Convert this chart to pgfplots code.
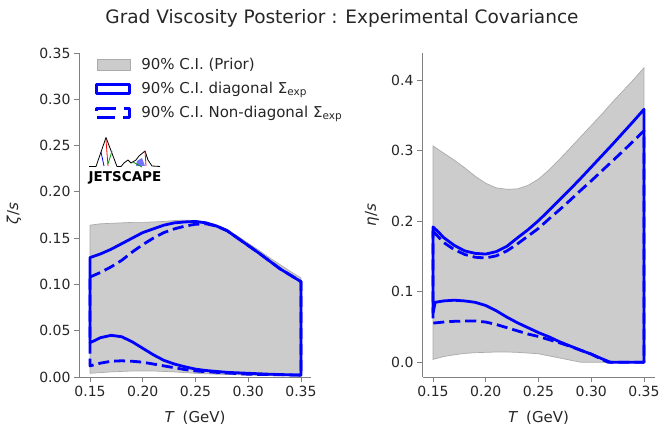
\documentclass[border=0pt]{standalone}
\usepackage{fontspec}
\setmainfont{DejaVu Sans}
\usepackage{pgfplots}
\pgfplotsset{compat=1.18}
\definecolor{txt}{HTML}{262626}
\definecolor{spine}{HTML}{808080}
\definecolor{band}{HTML}{CCCCCC}
\definecolor{bandedge}{HTML}{AAAAAA}
\definecolor{pblue}{RGB}{0,0,255}
\pgfplotsset{
  myaxis/.style={
    scale only axis, width=232pt, height=324pt,
    axis x line*=bottom, axis y line*=left,
    axis line style={spine, line width=0.9pt, -},
    xmin=0.14, xmax=0.36,
    xtick={0.15,0.2,0.25,0.3,0.35},
    xticklabel style={/pgf/number format/.cd, fixed, fixed zerofill, precision=2},
    tick style={spine, line width=0.9pt}, major tick length=5.5pt, tick align=outside,
    ticklabel style={font=\fontsize{14}{16}\selectfont, text=txt},
    /pgf/number format/assume math mode=true,
    clip=false,
  },
  bandst/.style={fill=band, draw=bandedge, line width=0.7pt},
  solidst/.style={pblue, line width=2.8pt, line join=round},
  dashst/.style={pblue, line width=2.8pt, dash pattern=on 11pt off 5pt, line join=round},
}
\begin{document}
\begin{tikzpicture}[x=1pt,y=1pt]
\path[use as bounding box] (0,0) rectangle (659,427);
% ---------------- left panel ----------------
\begin{axis}[myaxis, at={(79.5pt,50pt)}, anchor=south west,
  ymin=0, ymax=0.35, ytick={0,0.05,0.1,0.15,0.2,0.25,0.3,0.35},
  yticklabel style={/pgf/number format/.cd, fixed, fixed zerofill, precision=2},
  legend style={at={(axis description cs:0.068,0.99)}, anchor=north west, draw=none, fill=none,
    font=\fontsize{15}{17}\selectfont, text=txt, row sep=7pt, inner sep=0pt,
    /tikz/every odd column/.append style={column sep=8pt}},
  legend cell align=left,
]
\addplot[bandst, legend image code/.code={\fill[band,draw=bandedge] (0pt,-5.5pt) rectangle (33pt,5.5pt);}] coordinates {
(0.15,0.164) (0.16,0.1655) (0.17,0.166) (0.18,0.1665) (0.19,0.167) (0.20,0.167) (0.21,0.1675)
(0.22,0.168) (0.23,0.169) (0.24,0.1695) (0.25,0.169) (0.26,0.1675) (0.27,0.1645) (0.28,0.1595)
(0.29,0.152) (0.30,0.1445) (0.31,0.137) (0.32,0.129) (0.33,0.1215) (0.34,0.114) (0.35,0.107)
(0.35,0.001) (0.30,0.002) (0.27,0.003) (0.25,0.004) (0.23,0.0055) (0.21,0.0065) (0.19,0.0065)
(0.17,0.0055) (0.15,0.004)
} -- cycle;
\addlegendentry{90\% C.I. (Prior)}
\addplot[solidst, legend image code/.code={\draw[pblue, line width=2.8pt] (0pt,-4.5pt) rectangle (33pt,4.5pt);}] coordinates {
(0.15,0.129) (0.16,0.133) (0.17,0.138) (0.18,0.144) (0.19,0.150) (0.20,0.156) (0.21,0.160)
(0.22,0.164) (0.23,0.1665) (0.24,0.1675) (0.25,0.168) (0.26,0.1665) (0.27,0.163) (0.28,0.158)
(0.29,0.150) (0.30,0.142) (0.31,0.134) (0.32,0.1255) (0.33,0.117) (0.34,0.110) (0.35,0.103)
(0.35,0.002) (0.32,0.003) (0.30,0.004) (0.28,0.005) (0.27,0.006) (0.26,0.007) (0.25,0.0085)
(0.24,0.011) (0.23,0.014) (0.22,0.018) (0.21,0.024) (0.20,0.031) (0.19,0.038) (0.18,0.0435)
(0.17,0.045) (0.16,0.0425) (0.15,0.037)
} -- cycle;
\addlegendentry{90\% C.I. diagonal Σ\textsubscript{exp}}
\addplot[dashst, legend image code/.code={\draw[pblue, line width=2.8pt, dash pattern=on 22pt off 8pt, dash phase=-6pt] (0pt,-4.5pt) rectangle (33pt,4.5pt);}] coordinates {
(0.15,0.108) (0.16,0.113) (0.17,0.119) (0.18,0.126) (0.19,0.135) (0.20,0.143) (0.21,0.150)
(0.22,0.156) (0.23,0.160) (0.24,0.163) (0.25,0.165) (0.26,0.1655) (0.27,0.163) (0.28,0.158)
(0.29,0.150) (0.30,0.142) (0.31,0.134) (0.32,0.1255) (0.33,0.117) (0.34,0.110) (0.35,0.103)
(0.35,0.002) (0.30,0.003) (0.27,0.005) (0.25,0.0065) (0.24,0.008) (0.23,0.010) (0.22,0.012)
(0.21,0.014) (0.20,0.016) (0.19,0.017) (0.18,0.0175) (0.17,0.017) (0.16,0.015) (0.15,0.012)
} -- cycle;
\addlegendentry{90\% C.I. Non-diagonal Σ\textsubscript{exp}}
\end{axis}
% ---------------- right panel ----------------
\begin{axis}[myaxis, at={(422.5pt,50pt)}, anchor=south west,
  ymin=-0.021, ymax=0.439, ytick={0,0.1,0.2,0.3,0.4},
  yticklabel style={/pgf/number format/.cd, fixed, fixed zerofill, precision=1},
]
\addplot[bandst] coordinates {
(0.15,0.307) (0.16,0.297) (0.17,0.287) (0.18,0.276) (0.19,0.264) (0.20,0.254) (0.21,0.2475)
(0.22,0.2455) (0.23,0.246) (0.24,0.251) (0.25,0.260) (0.26,0.273) (0.27,0.288) (0.28,0.304)
(0.29,0.320) (0.30,0.336) (0.31,0.352) (0.32,0.369) (0.33,0.385) (0.34,0.401) (0.35,0.418)
(0.35,0.0) (0.29,0.0) (0.28,0.003) (0.27,0.006) (0.26,0.009) (0.25,0.012) (0.24,0.013)
(0.23,0.014) (0.22,0.0145) (0.21,0.0145) (0.20,0.014) (0.19,0.0135) (0.18,0.0125) (0.17,0.0105)
(0.16,0.008) (0.15,0.004)
} -- cycle;
\addplot[solidst] coordinates {
(0.15,0.192) (0.155,0.185) (0.16,0.177) (0.17,0.166) (0.18,0.158) (0.19,0.1545) (0.20,0.1535)
(0.21,0.157) (0.22,0.1645) (0.23,0.1765) (0.24,0.188) (0.25,0.201) (0.26,0.2155) (0.27,0.2305)
(0.28,0.2455) (0.29,0.261) (0.30,0.277) (0.31,0.293) (0.32,0.309) (0.33,0.3255) (0.34,0.342)
(0.35,0.359)
(0.35,0.0) (0.318,0.0) (0.31,0.005) (0.30,0.0115) (0.29,0.017) (0.28,0.023) (0.27,0.029)
(0.26,0.036) (0.25,0.042) (0.24,0.049) (0.23,0.056) (0.22,0.064) (0.21,0.073) (0.20,0.0805)
(0.19,0.085) (0.18,0.087) (0.17,0.088) (0.16,0.087) (0.152,0.085) (0.15,0.070)
} -- cycle;
\addplot[dashst] coordinates {
(0.15,0.186) (0.16,0.170) (0.17,0.160) (0.18,0.153) (0.19,0.149) (0.20,0.148) (0.21,0.151)
(0.22,0.158) (0.23,0.168) (0.24,0.179) (0.25,0.190) (0.26,0.2035) (0.27,0.2165) (0.28,0.230)
(0.29,0.244) (0.30,0.2575) (0.31,0.2715) (0.32,0.2855) (0.33,0.2995) (0.34,0.314) (0.35,0.3285)
(0.35,0.0) (0.316,0.0) (0.31,0.004) (0.30,0.0115) (0.29,0.017) (0.28,0.0225) (0.27,0.0275)
(0.26,0.032) (0.25,0.0365) (0.24,0.040) (0.23,0.0445) (0.22,0.049) (0.21,0.0535) (0.20,0.057)
(0.19,0.0585) (0.18,0.0585) (0.17,0.058) (0.16,0.057) (0.15,0.0555)
} -- cycle;
\end{axis}
% ---------------- texts ----------------
\node[anchor=base, text=txt, font=\fontsize{18.5}{20}\selectfont] at (342,403) {Grad Viscosity Posterior : Experimental Covariance};
\node[anchor=base, text=txt, font=\fontsize{15}{17}\selectfont] at (195,4.5) {\textit{T}\hspace{8pt}(GeV)};
\node[anchor=base, text=txt, font=\fontsize{15}{17}\selectfont] at (538.5,4.5) {\textit{T}\hspace{8pt}(GeV)};
\node[rotate=90, text=txt, font=\fontsize{15}{17}\selectfont] at (14,213) {\textit{ζ}/\textit{s}};
\node[rotate=90, text=txt, font=\fontsize{15}{17}\selectfont] at (372,212) {\textit{η}/\textit{s}};
% ---------------- logo ----------------
\begin{scope}[yscale=-1, yshift=-427]
\draw[black, line width=0.8pt, line join=round] (89,166.5) -- (96,166.5) -- (106,137.5) -- (117,166.5) -- (121,166.5)
  -- (124,163) -- (128,160) -- (131,163) -- (136,160) -- (139,156) -- (145,151) -- (148,160) -- (152,166) -- (160,166.5);
\draw[red, line width=0.8pt] (106,140) -- (108,166);
\draw[blue, line width=0.8pt] (101,152) -- (104,166);
\draw[green!60!black, line width=0.8pt] (108,164) -- (112,151);
\fill[blue!55] (137,161) -- (142,158) -- (145,166) -- (136,166) -- cycle;
\draw[red, line width=0.8pt] (145,151) -- (146,166);
\draw[green!60!black, line width=0.8pt] (133,162) -- (142,167);
\node[font=\fontsize{13.5}{14}\selectfont\bfseries, inner sep=0pt] at (125,177.5) {JETSCAPE};
\end{scope}
\end{tikzpicture}
\end{document}
